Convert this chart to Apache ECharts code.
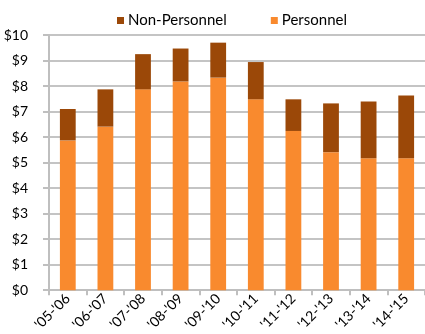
<!DOCTYPE html>
<html><head><meta charset="utf-8">
<script src="https://cdn.jsdelivr.net/npm/echarts@6/dist/echarts.min.js"></script>
<style>html,body{margin:0;padding:0;background:#fff}#c{width:425px;height:334px}</style>
</head><body><div id="c"></div>
<script>
const categories = ["'05-'06","'06-'07","'07-'08","'08-'09","'09-'10","'10-'11","'11-'12","'12-'13","'13-'14","'14-'15"];
const personnel = [5.87, 6.41, 7.87, 8.18, 8.33, 7.48, 6.24, 5.41, 5.17, 5.17];
const nonPersonnel = [1.23, 1.46, 1.38, 1.29, 1.37, 1.46, 1.24, 1.91, 2.22, 2.46];
const yTicks = ["$0","$1","$2","$3","$4","$5","$6","$7","$8","$9","$10"];

const font = "Lato, 'Open Sans', sans-serif";
const chart = echarts.init(document.getElementById('c'), null, {renderer:'canvas'});
chart.setOption({
  animation:false,
  textStyle:{fontFamily:font},
  legend:{
    top:8, left:112, itemWidth:7, itemHeight:7, itemGap:44,
    icon:'rect',
    textStyle:{fontFamily:font, fontSize:15, color:'#000', padding:[0,0,0,-1]},
    data:['Non-Personnel','Personnel']
  },
  grid:{left:49, right:-2, top:35, bottom:41, containLabel:false},
  xAxis:{
    type:'category', data:categories,
    axisLine:{lineStyle:{color:'#BFBFBF', width:2}},
    axisTick:{show:true, length:5, lineStyle:{color:'#BFBFBF', width:2}},
    axisLabel:{rotate:45, fontSize:14, color:'#000', margin:6, fontFamily:font}
  },
  yAxis:{
    type:'value', min:0, max:10, interval:1,
    axisLine:{show:true, lineStyle:{color:'#BFBFBF', width:2}},
    axisTick:{show:true, length:6, lineStyle:{color:'#BFBFBF', width:2}},
    splitLine:{lineStyle:{color:'#C4C4C4', width:2}},
    axisLabel:{fontSize:14, color:'#000', margin:21, fontFamily:font,
      formatter:(v)=>yTicks[Math.round(v)]}
  },
  series:[
    {name:'Personnel', type:'bar', stack:'t', data:personnel, barWidth:'42%',
     itemStyle:{color:'#F98A2E'}},
    {name:'Non-Personnel', type:'bar', stack:'t', data:nonPersonnel, barWidth:'42%',
     itemStyle:{color:'#9B4808'}}
  ]
});
</script></body></html>
